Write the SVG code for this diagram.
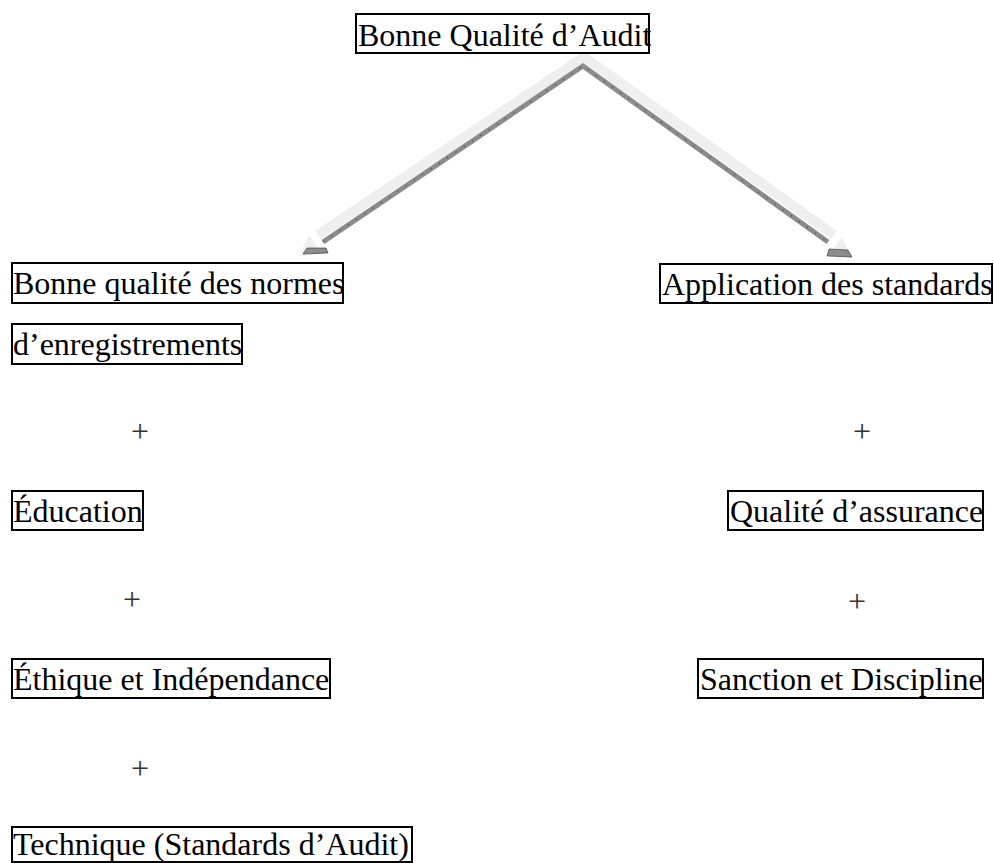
<svg xmlns="http://www.w3.org/2000/svg" width="994" height="863" viewBox="0 0 994 863">
<defs>
<style>
.box{fill:none;stroke:#000;stroke-width:2}
.t{font-family:"Liberation Serif","Times New Roman",serif;font-size:32px;fill:#000}
.p{font-family:"Liberation Serif","Times New Roman",serif;font-size:32px;fill:#333;text-anchor:middle}
.light{fill:none;stroke:#efefef;stroke-width:10;stroke-linejoin:miter}
.dark{fill:none;stroke:#8c8c8c;stroke-width:5;stroke-linejoin:miter}
.hatch{fill:none;stroke:#222;stroke-width:1;stroke-dasharray:1 9}
</style>
</defs>
<rect width="994" height="863" fill="#fff"/>
<g id="connectors">
<polyline class="light" points="318,235 584,57 834,235"/>
<polygon fill="#efefef" points="299,256 322,254 309,235"/>
<polygon fill="#efefef" points="852,258 842,237 829,255"/>
<polyline class="dark" points="323,242 583,66 828,242"/>
<polyline class="hatch" points="323,242 583,66 828,242"/>
<polygon fill="#8c8c8c" stroke="#333" stroke-width="0.6" points="303,254 307,248 326,248 328,253"/>
<polygon fill="#8c8c8c" stroke="#333" stroke-width="0.6" points="827,256 829,249 848,250 852,257"/>
</g>
<g id="n-top"><rect class="box" x="356" y="14" width="293" height="39"/><text class="t" x="358" y="46">Bonne Qualité d’Audit</text></g>
<g id="n-normes"><rect class="box" x="12" y="263" width="331" height="40"/><text class="t" x="13" y="294">Bonne qualité des normes</text></g>
<g id="n-enreg"><rect class="box" x="12" y="324" width="230" height="40"/><text class="t" x="13" y="355">d’enregistrements</text></g>
<g id="n-app"><rect class="box" x="660" y="264" width="332" height="39"/><text class="t" x="662" y="295">Application des standards</text></g>
<g id="plus-l1"><text class="p" x="140" y="442">+</text></g>
<g id="plus-r1"><text class="p" x="862" y="442">+</text></g>
<g id="n-edu"><rect class="box" x="12" y="491" width="131" height="39"/><text class="t" x="13" y="522">Éducation</text></g>
<g id="n-qa"><rect class="box" x="728" y="491" width="255" height="39"/><text class="t" x="730" y="522">Qualité d’assurance</text></g>
<g id="plus-l2"><text class="p" x="132" y="610">+</text></g>
<g id="plus-r2"><text class="p" x="857" y="612">+</text></g>
<g id="n-eth"><rect class="box" x="12" y="659" width="318" height="39"/><text class="t" x="13" y="690">Éthique et Indépendance</text></g>
<g id="n-sanc"><rect class="box" x="698" y="659" width="285" height="39"/><text class="t" x="700" y="690">Sanction et Discipline</text></g>
<g id="plus-l3"><text class="p" x="140" y="779">+</text></g>
<g id="n-tech"><rect class="box" x="12" y="827" width="400" height="35"/><text class="t" x="13" y="855">Technique (Standards d’Audit)</text></g>
</svg>
